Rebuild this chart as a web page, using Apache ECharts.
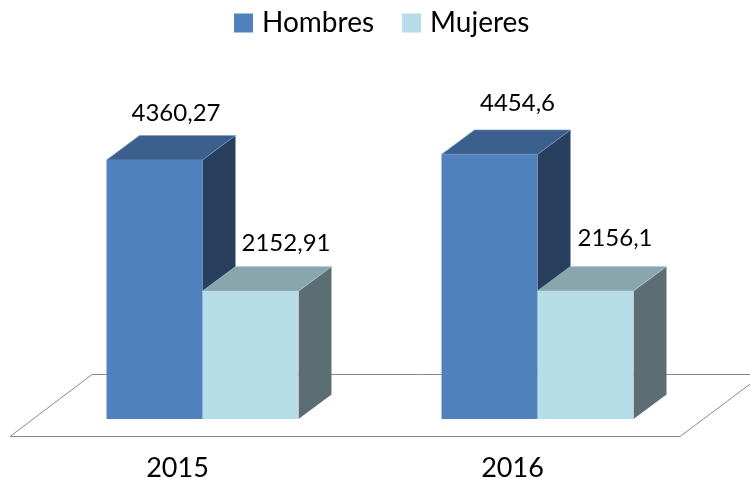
<!DOCTYPE html>
<html>
<head>
<meta charset="utf-8">
<style>html,body{margin:0;padding:0;background:#fff}#c{width:750px;height:479px}</style>
<script src="https://cdn.jsdelivr.net/npm/echarts@6/dist/echarts.min.js"></script>
</head>
<body>
<div id="c"></div>
<script>
const years = ['2015', '2016'];
const hombres = [4360.27, 4454.6];
const mujeres = [2152.91, 2156.1];

const FONT = 'Lato';
const DEPTH_X = 33, DEPTH_Y = 24.5, BAR_RATIO = 96 / 335;
const FLOOR_SHIFT = 25; // bars stand in the middle of the floor's depth, right of the axis

const chart = echarts.init(document.getElementById('c'), null, {renderer: 'canvas'});

function bar3d(side, colors, labelShift) {
  return function (params, api) {
    const i = api.value(0);
    const val = api.value(1);
    const top = api.coord([i, val]);
    const base = api.coord([i, 0]);
    const w = api.size([1, 0])[0] * BAR_RATIO;
    const x0 = (side === 0 ? top[0] - w : top[0]) + FLOOR_SHIFT;
    const x1 = x0 + w;
    const y0 = top[1], y1 = base[1];
    const dx = DEPTH_X, dy = DEPTH_Y;
    const edge = {stroke: colors.edge, lineWidth: 0.6};
    const shift = labelShift[i];
    return {
      type: 'group',
      children: [
        {type: 'polygon', shape: {points: [[x1, y0], [x1 + dx, y0 - dy], [x1 + dx, y1 - dy], [x1, y1]]},
          style: {fill: colors.side}},
        {type: 'polygon', shape: {points: [[x0, y0], [x0 + dx, y0 - dy], [x1 + dx, y0 - dy], [x1, y0]]},
          style: Object.assign({fill: colors.top}, edge)},
        {type: 'rect', shape: {x: x0, y: y0, width: w, height: y1 - y0},
          style: {fill: colors.front}},
        {type: 'text', x: (x0 + x1) / 2 + shift[0], y: y0 + shift[1],
          style: {text: String(val).replace('.', ','), fill: '#000', font: '24px ' + FONT,
            align: 'center', verticalAlign: 'middle'}}
      ]
    };
  };
}

function seriesData(values) { return values.map((v, i) => [i, v]); }

chart.setOption({
  animation: false,
  backgroundColor: '#fff',
  grid: {left: 10, width: 670, top: 122, bottom: 60, containLabel: false, outerBoundsMode: 'none'},
  legend: {
    left: 229, top: 4, itemWidth: 19, itemHeight: 19, itemGap: 28, icon: 'rect',
    textStyle: {fontFamily: FONT, fontSize: 28, color: '#000', padding: [0, 0, 0, 4]},
    data: ['Hombres', 'Mujeres']
  },
  xAxis: {
    type: 'category', data: years,
    axisLine: {show: false}, axisTick: {show: false},
    axisLabel: {fontFamily: FONT, fontSize: 27, color: '#000', margin: 36}
  },
  yAxis: {type: 'value', min: 0, max: 5000, show: false},
  graphic: [{
    type: 'polygon', silent: true, z: 0,
    shape: {points: [[10, 436.5], [92, 374.5], [763, 374.5], [680, 436.5]]},
    style: {fill: 'none', stroke: '#8a8a8a', lineWidth: 1}
  }],
  series: [
    {name: 'Hombres', type: 'custom', coordinateSystem: 'cartesian2d', encode: {x: 0, y: 1},
      itemStyle: {color: '#4f81bd'}, clip: false, data: seriesData(hombres),
      renderItem: bar3d(0, {front: '#4f81bd', top: '#3b608e', side: '#283f5e', edge: '#7f9cc0'},
        [[21.5, -47], [28, -51]])},
    {name: 'Mujeres', type: 'custom', coordinateSystem: 'cartesian2d', encode: {x: 0, y: 1},
      itemStyle: {color: '#b7dde8'}, clip: false, data: seriesData(mujeres),
      renderItem: bar3d(1, {front: '#b7dde8', top: '#89a6ad', side: '#5c6e73', edge: '#b2cbd2'},
        [[35.5, -48], [29.5, -53]])}
  ]
});
</script>
</body>
</html>
